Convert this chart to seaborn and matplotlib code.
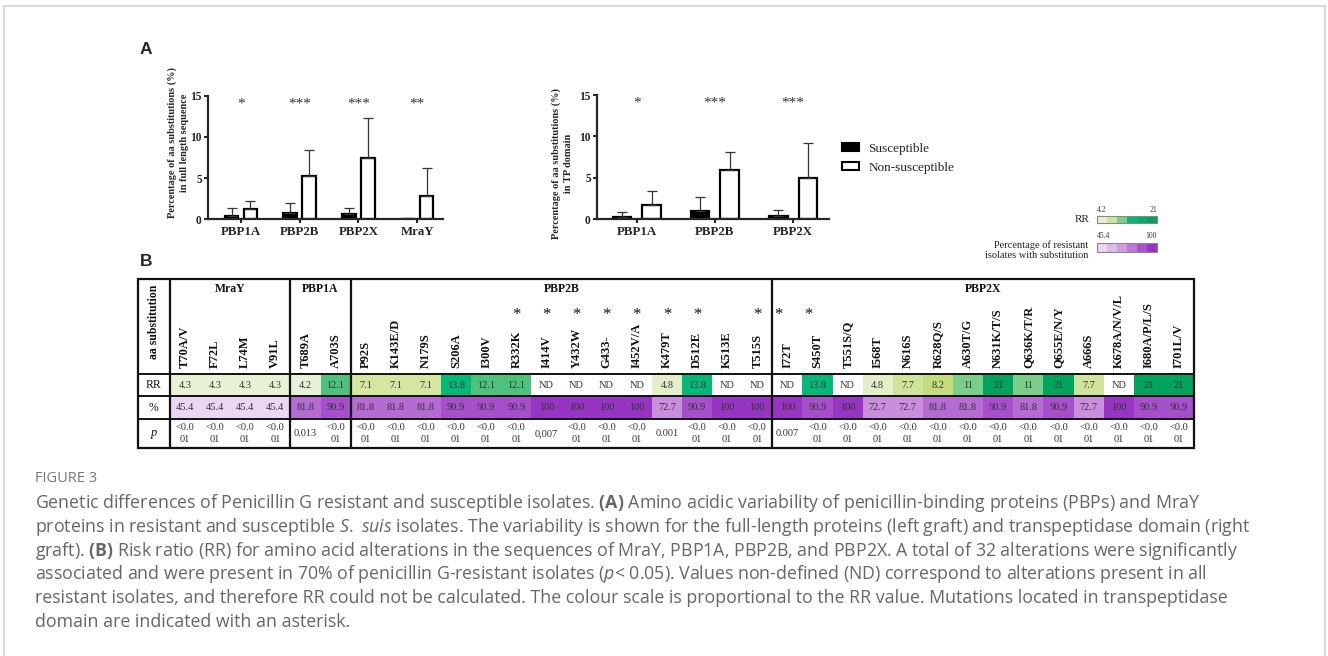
import numpy as np
import pandas as pd
import seaborn as sns
import matplotlib.pyplot as plt
from matplotlib.colors import LinearSegmentedColormap, Normalize
from matplotlib.cm import ScalarMappable
from matplotlib.patches import Patch, Rectangle
from matplotlib.lines import Line2D

# ---- panel A data ----
proteins_full = ["PBP1A", "PBP2B", "PBP2X", "MraY"]
susc_full = [0.35, 0.73, 0.6, 0.05]
susc_full_sd = [0.98, 1.21, 0.73, 0.15]
nonsusc_full = [1.2, 5.25, 7.4, 2.8]
nonsusc_full_sd = [1.06, 3.12, 4.94, 3.39]
stars_full = ["*", "***", "***", "**"]

proteins_tp = ["PBP1A", "PBP2B", "PBP2X"]
susc_tp = [0.32, 1.05, 0.44]
susc_tp_sd = [0.6, 1.6, 0.65]
nonsusc_tp = [1.73, 5.95, 5.03]
nonsusc_tp_sd = [1.69, 2.21, 4.14]
stars_tp = ["*", "***", "***"]

# ---- panel B data ----
groups = ["MraY", "PBP1A", "PBP2B", "PBP2X"]
group_sizes = [4, 2, 14, 14]
mutations = ["T70A/V", "F72L", "L74M", "V91L",
             "T689A", "A703S",
             "P92S", "K143E/D", "N179S", "S206A", "I300V", "R332K", "I414V",
             "Y432W", "G433-", "I452V/A", "K479T", "D512E", "K513E", "T515S",
             "I72T", "S450T", "T551S/Q", "I568T", "N616S", "R628Q/S", "A630T/G",
             "N631K/T/S", "Q636K/T/R", "Q655E/N/Y", "A666S", "K678A/N/V/L",
             "I680A/P/L/S", "I701L/V"]
nan = np.nan
rr = [4.3, 4.3, 4.3, 4.3,
      4.2, 12.1,
      7.1, 7.1, 7.1, 13.8, 12.1, 12.1, nan, nan, nan, nan, 4.8, 13.8, nan, nan,
      nan, 13.8, nan, 4.8, 7.7, 8.2, 11, 21, 11, 21, 7.7, nan, 21, 21]
pct = [45.4, 45.4, 45.4, 45.4,
       81.8, 90.9,
       81.8, 81.8, 81.8, 90.9, 90.9, 90.9, 100, 100, 100, 100, 72.7, 90.9, 100, 100,
       100, 90.9, 100, 72.7, 72.7, 81.8, 81.8, 90.9, 81.8, 90.9, 72.7, 100, 90.9, 90.9]
LT = "<0.0\n01"
pvals = [LT, LT, LT, LT,
         "0.013", LT,
         LT, LT, LT, LT, LT, LT, "0,007", LT, LT, LT, "0.001", LT, LT, LT,
         "0.007", LT, LT, LT, LT, LT, LT, LT, LT, LT, LT, LT, LT, LT]
tp_domain = ["R332K", "I414V", "Y432W", "G433-", "I452V/A", "K479T", "D512E",
             "T515S", "I72T", "S450T"]

caption = [
    r"Genetic differences of Penicillin G resistant and susceptible isolates. $\mathbf{(A)}$ Amino acidic variability of penicillin-binding proteins (PBPs) and MraY",
    r"proteins in resistant and susceptible $\mathit{S.\ suis}$ isolates. The variability is shown for the full-length proteins (left graft) and transpeptidase domain (right",
    r"graft). $\mathbf{(B)}$ Risk ratio (RR) for amino acid alterations in the sequences of MraY, PBP1A, PBP2B, and PBP2X. A total of 32 alterations were significantly",
    r"associated and were present in 70% of penicillin G-resistant isolates ($\mathit{p}$< 0.05). Values non-defined (ND) correspond to alterations present in all",
    r"resistant isolates, and therefore RR could not be calculated. The colour scale is proportional to the RR value. Mutations located in transpeptidase",
    r"domain are indicated with an asterisk.",
]

sns.set_style("ticks")
plt.rcParams["font.family"] = ["Liberation Serif", "DejaVu Serif"]
plt.rcParams["mathtext.fontset"] = "custom"
plt.rcParams["mathtext.rm"] = "Open Sans"
plt.rcParams["mathtext.bf"] = "Open Sans:bold"
plt.rcParams["mathtext.it"] = "Open Sans:italic"

W, H = 1328, 656
fig = plt.figure(figsize=(W / 100, H / 100), dpi=100)


def box(x0, y0, x1, y1):
    return [x0 / W, 1 - y1 / H, (x1 - x0) / W, (y1 - y0) / H]


def fx(x):
    return x / W


def fy(y):
    return 1 - y / H


# frame around the figure
for xs, ys in [([4, 4], [656, 6]), ([4, 1325], [6, 6]), ([1325, 1325], [6, 656])]:
    fig.add_artist(Line2D([fx(v) for v in xs], [fy(v) for v in ys],
                          color="#d4d4d4", lw=1.2))

palette = {"Susceptible": "black", "Non-susceptible": "white"}


def bar_panel(ax, cats, s, s_sd, ns, ns_sd, stars, ylabel, width, gap, xlim, lab_xy):
    df = pd.DataFrame({
        "protein": cats * 2,
        "value": s + ns,
        "group": ["Susceptible"] * len(cats) + ["Non-susceptible"] * len(cats),
    })
    sns.barplot(data=df, x="protein", y="value", hue="group", palette=palette,
                edgecolor="black", linewidth=1.6, width=width, gap=gap,
                errorbar=None, legend=False, ax=ax)
    for cont, sds in zip(ax.containers, [s_sd, ns_sd]):
        for bar, err in zip(cont, sds):
            ax.errorbar(bar.get_x() + bar.get_width() / 2, bar.get_height(),
                        yerr=[[0], [err]], fmt="none", ecolor="#333333",
                        elinewidth=0.9, capsize=3.5, capthick=0.9, zorder=1)
    for i, st in enumerate(stars):
        ax.text(i, 14.0, st, ha="center", va="center", fontsize=11, color="#333333")
    ax.set_ylim(0, 15)
    ax.set_xlim(*xlim)
    ax.set_yticks([0, 5, 10, 15])
    ax.set_xlabel("")
    ax.set_ylabel(ylabel, fontsize=7.4, fontweight="bold", linespacing=1.4)
    ax.yaxis.set_label_coords(*lab_xy)
    for lab in ax.get_xticklabels():
        lab.set_fontweight("bold")
        lab.set_fontsize(9.3)
    for lab in ax.get_yticklabels():
        lab.set_fontweight("bold")
        lab.set_fontsize(8.3)
    ax.tick_params(width=1.5, length=3, pad=1.5)
    sns.despine(ax=ax)
    for sp in ["left", "bottom"]:
        ax.spines[sp].set_linewidth(1.6)


ax1 = fig.add_axes(box(208, 95.7, 443, 219.3))
bar_panel(ax1, proteins_full, susc_full, susc_full_sd, nonsusc_full, nonsusc_full_sd,
          stars_full, "Percentage of aa substitutions (%)\nin full length sequence",
          0.64, 0.28, (-0.56, 3.44), (-0.08, 0.62))
ax1.set_facecolor("none")

ax2 = fig.add_axes(box(597, 95, 829, 219.3))
bar_panel(ax2, proteins_tp, susc_tp, susc_tp_sd, nonsusc_tp, nonsusc_tp_sd,
          stars_tp, "Percentage of aa substitutions (%)\nin TP domain",
          0.76, 0.37, (-0.51, 2.46), (-0.105, 0.45))
ax2.set_facecolor("none")

# legend
handles = [Patch(facecolor="black", edgecolor="black", lw=1.5),
           Patch(facecolor="white", edgecolor="black", lw=1.5)]
fig.legend(handles, ["Susceptible", "Non-susceptible"], loc="upper left",
           bbox_to_anchor=(fx(830), fy(131)), frameon=False, fontsize=9.5,
           handlelength=1.3, handleheight=0.55, handletextpad=0.7, labelspacing=0.55)

fig.text(fx(140), fy(49), "A", fontsize=12.5, fontweight="bold",
         family="Liberation Sans", va="center")
fig.text(fx(140), fy(262), "B", fontsize=12.5, fontweight="bold",
         family="Liberation Sans", va="center")

# colour maps
rr_cmap = LinearSegmentedColormap.from_list("rr", [
    (0.0, "#e9f1d4"), (0.036, "#e4eec8"), (0.17, "#d7e6a1"), (0.21, "#cfe39a"),
    (0.24, "#c1dc77"), (0.40, "#7dcf88"), (0.47, "#4cc27a"), (0.57, "#03b97a"),
    (1.0, "#00a35c")])
pct_cmap = LinearSegmentedColormap.from_list("pct", [
    (0.0, "#ebd7f3"), (0.5, "#c98fdd"), (0.667, "#b46bd2"), (0.833, "#a54fca"),
    (1.0, "#9635c1")])

# colour scale keys
cax1 = fig.add_axes(box(1097, 216, 1157, 223))
cb1 = fig.colorbar(ScalarMappable(Normalize(4.2, 21), rr_cmap.resampled(6)),
                   cax=cax1, orientation="horizontal")
cax2 = fig.add_axes(box(1097, 243, 1157, 252))
cb2 = fig.colorbar(ScalarMappable(Normalize(45.4, 100), pct_cmap.resampled(6)),
                   cax=cax2, orientation="horizontal")
for cb, lo, hi in [(cb1, "4.2", "21"), (cb2, "45.4", "100")]:
    cb.ax.set_xticks([])
    cb.outline.set_edgecolor("#888888")
    cb.outline.set_linewidth(0.8)
    cb.ax.text(0, 1.3, lo, transform=cb.ax.transAxes, fontsize=5.5, ha="left",
               va="bottom", color="#333333")
    cb.ax.text(1, 1.3, hi, transform=cb.ax.transAxes, fontsize=5.5, ha="right",
               va="bottom", color="#333333")
fig.text(fx(1089), fy(219.5), "RR", fontsize=8, ha="right", va="center", color="#222222")
fig.text(fx(1088), fy(250), "Percentage of resistant\nisolates with substitution",
         fontsize=7.5, ha="right", va="center", multialignment="right",
         color="#222222", linespacing=1.1)

# ---- panel B table ----
n = len(mutations)
hc = 1.06      # header column width (in column units)
ht = 4.22      # header row height (in row units)
pb = 2 + 1.29  # bottom of p row

axt = fig.add_axes(box(138, 279, 1194, 448))
rr_rows = np.array([rr, [nan] * n], dtype=float)
pct_rows = np.array([[nan] * n, pct], dtype=float)
sns.heatmap(rr_rows, cmap=rr_cmap, vmin=4.2, vmax=21, cbar=False, ax=axt,
            xticklabels=False, yticklabels=False)
sns.heatmap(pct_rows, cmap=pct_cmap, vmin=45.4, vmax=100, cbar=False, ax=axt,
            xticklabels=False, yticklabels=False)
axt.set_xlim(-hc, n)
axt.set_ylim(pb, -ht)
axt.axis("off")

tcol = "#333333"
for i, m in enumerate(mutations):
    axt.text(i + 0.5, -0.27, m, rotation=90, ha="center", va="bottom",
             fontsize=9, fontweight="bold", color="#111111")
    rtxt = "ND" if np.isnan(rr[i]) else f"{rr[i]:g}"
    axt.text(i + 0.5, 0.5, rtxt, ha="center", va="center", fontsize=7.5, color=tcol)
    axt.text(i + 0.5, 1.5, f"{pct[i]:g}", ha="center", va="center", fontsize=7.5,
             color=tcol)
    axt.text(i + 0.5, 2.64, pvals[i], ha="center", va="center", fontsize=7.5,
             color=tcol, linespacing=1.45)
    if m in tp_domain:
        off = -0.3 if i >= 20 else 0
        axt.text(i + 0.5 + off, -2.62, "*", ha="center", va="center",
                 fontsize=12, color="#111111")

start = 0
for g, size in zip(groups, group_sizes):
    axt.text(start + size / 2, -3.78, g, ha="center", va="center", fontsize=8.5,
             fontweight="bold", color="#111111")
    start += size

axt.text(-hc / 2, -2.3, "aa substitution", rotation=90, ha="center", va="center",
         fontsize=8.5, fontweight="bold", color="#111111")
axt.text(-hc / 2, 0.5, "RR", ha="center", va="center", fontsize=8.5, color="#111111")
axt.text(-hc / 2, 1.5, "%", ha="center", va="center", fontsize=8.5, color="#111111")
axt.text(-hc / 2, 2.64, "p", ha="center", va="center", fontsize=9, style="italic",
         color="#111111")

axt.add_patch(Rectangle((-hc, -ht), n + hc, pb + ht, fill=False, lw=1.6,
                        edgecolor="#111111", clip_on=False))
axt.vlines(np.cumsum([0] + group_sizes[:-1]), -ht, pb, color="#111111", lw=1.6,
           clip_on=False)
axt.hlines([0, 1, 2], -hc, n, color="#111111", lw=1.4, clip_on=False)

# ---- caption ----
fig.text(fx(35), fy(479), "FIGURE 3", family="Open Sans", fontsize=10.5,
         color="#777777", va="center")
for k, line in enumerate(caption):
    fig.text(fx(35), fy(503 + k * 23.8), line, family="Open Sans", fontsize=12.8,
             color="#666666", va="center")

fig.savefig("out.png", dpi=100)
